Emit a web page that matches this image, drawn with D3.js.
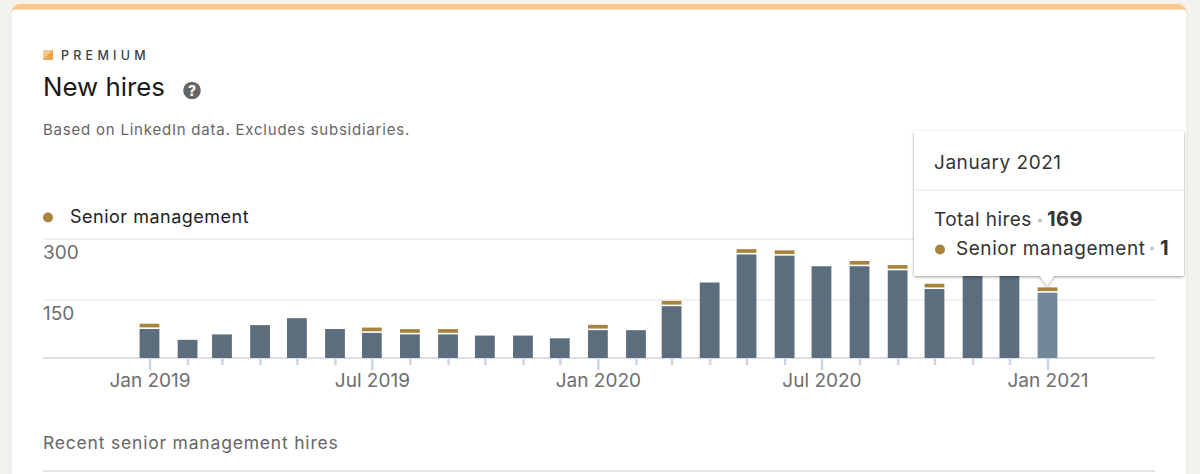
<!DOCTYPE html>
<html>
<head>
<meta charset="utf-8">
<script src="https://d3js.org/d3.v7.min.js"></script>
<style>
  html, body { margin: 0; padding: 0; background: #f3f2ee; overflow: hidden; }
  svg { display: block; font-family: Inter, "Noto Sans", sans-serif; }
</style>
</head>
<body>
<script>
// values; the two bars behind the tooltip are guesses
const months = ['2019-01','2019-02','2019-03','2019-04','2019-05','2019-06','2019-07','2019-08','2019-09',
  '2019-10','2019-11','2019-12','2020-01','2020-02','2020-03','2020-04','2020-05','2020-06','2020-07',
  '2020-08','2020-09','2020-10','2020-11','2020-12','2021-01'];
const otherHires = [75,47,61,85,103,75,65,61,61,58,58,51,72,72,134,193,262,259,233,233,223,177,240,240,168];
const seniorHires = [1,0,0,0,0,0,1,1,1,0,0,0,1,0,1,0,1,1,0,1,1,1,0,0,1];
const yTicks = [150, 300];
const labelledMonths = ['2019-01','2019-07','2020-01','2020-07','2021-01'];

const width = 1200, height = 474;
const parseMonth = d3.timeParse('%Y-%m');
const dates = months.map(parseMonth);
const labelled = labelledMonths.map(m => +parseMonth(m));

const svg = d3.select('body').append('svg').attr('width', width).attr('height', height);
const defs = svg.append('defs');

const shadow = defs.append('filter').attr('id', 'tipShadow')
  .attr('x', '-10%').attr('y', '-10%').attr('width', '120%').attr('height', '125%');
shadow.append('feDropShadow').attr('dx', 0).attr('dy', 1).attr('stdDeviation', 1.6)
  .attr('flood-color', '#000').attr('flood-opacity', 0.4);

const iconGrad = defs.append('linearGradient').attr('id', 'iconGrad')
  .attr('x1', 0).attr('y1', 0).attr('x2', 1).attr('y2', 1);
iconGrad.append('stop').attr('offset', '50%').attr('stop-color', '#f7c992');
iconGrad.append('stop').attr('offset', '50%').attr('stop-color', '#eea648');

// card
svg.append('rect').attr('x', 11).attr('y', 4).attr('width', 1176).attr('height', 490)
  .attr('rx', 9).attr('fill', '#f8c88d');
svg.append('path').attr('d', 'M11,14 Q11,9.4 16,9.4 H1182 Q1187,9.4 1187,14 V480 H11 Z').attr('fill', '#fff');
svg.append('line').attr('x1', 11).attr('x2', 11).attr('y1', 12).attr('y2', 474).attr('stroke', '#e4e4e2').attr('stroke-width', 1);
svg.append('line').attr('x1', 1187).attr('x2', 1187).attr('y1', 12).attr('y2', 474).attr('stroke', '#e4e4e2').attr('stroke-width', 1);

// header
svg.append('rect').attr('x', 43).attr('y', 50).attr('width', 10).attr('height', 10).attr('fill', 'url(#iconGrad)');
svg.append('text').attr('x', 61).attr('y', 59.5).text('PREMIUM')
  .attr('font-size', 12.5).attr('font-weight', 500).attr('letter-spacing', 4.25).attr('fill', '#3f3f3f');
svg.append('text').attr('x', 43).attr('y', 95.5).text('New hires')
  .attr('font-size', 25.8).attr('fill', '#1a1a1a');
svg.append('circle').attr('cx', 192).attr('cy', 90.5).attr('r', 8.8).attr('fill', '#666');
svg.append('text').attr('x', 192).attr('y', 95.5).attr('text-anchor', 'middle').text('?')
  .attr('font-size', 14).attr('font-weight', 800).attr('fill', '#fff');
svg.append('text').attr('x', 43).attr('y', 134.5).text('Based on LinkedIn data. Excludes subsidiaries.')
  .attr('font-size', 15).attr('letter-spacing', 0.78).attr('fill', '#666');

// legend
svg.append('circle').attr('cx', 48).attr('cy', 217.5).attr('r', 5).attr('fill', '#a6843a');
svg.append('text').attr('x', 70).attr('y', 222.5).text('Senior management')
  .attr('font-size', 18).attr('letter-spacing', 0.5).attr('fill', '#222');

// scales
const x = d3.scaleTime().domain([dates[0], dates[dates.length - 1]]).range([149.5, 1047.5]);
const y = d3.scaleLinear().domain([0, 150, 300]).range([358, 300, 239]);
const seniorH = d3.scaleLinear().domain([0, 1]).range([0, 3.7]);
const barW = 19.8, seniorGap = 1.6;

// grid
svg.append('g').selectAll('line').data(yTicks).join('line')
  .attr('x1', 43).attr('x2', 1155)
  .attr('y1', d => y(d)).attr('y2', d => y(d))
  .attr('stroke', '#eff1f3').attr('stroke-width', 2);
svg.append('g').selectAll('text').data(yTicks).join('text')
  .attr('x', 43).attr('y', d => y(d) + 20)
  .attr('font-size', 19).attr('fill', '#6e6e6e')
  .text(d => d);

// x axis
const xAxis = d3.axisBottom(x).tickValues(dates).tickSize(7).tickPadding(0)
  .tickFormat(d => labelled.includes(+d) ? d3.timeFormat('%b %Y')(d) : '');
const axisG = svg.append('g').attr('transform', 'translate(0,358)').call(xAxis);
axisG.select('.domain').remove();
axisG.selectAll('.tick line').attr('stroke', '#cbd5e2').attr('stroke-width', 2.5)
  .attr('y2', d => labelled.includes(+d) ? 12 : 7);
axisG.selectAll('.tick text').attr('y', 29).attr('dy', 0)
  .attr('font-family', 'Inter').attr('font-size', 19).attr('fill', '#6e6e6e');

svg.append('line').attr('x1', 43).attr('x2', 1155).attr('y1', 358).attr('y2', 358)
  .attr('stroke', '#dce0e6').attr('stroke-width', 2);

// bars
const rows = dates.map((d, i) => ({ date: d, other: otherHires[i], senior: seniorHires[i], last: i === dates.length - 1 }));
svg.append('g').selectAll('rect').data(rows).join('rect')
  .attr('x', d => x(d.date) - barW / 2)
  .attr('width', barW)
  .attr('y', d => y(d.other))
  .attr('height', d => y(0) - y(d.other))
  .attr('fill', d => d.last ? '#73879a' : '#5c6e7e');
svg.append('g').selectAll('rect').data(rows.filter(d => d.senior > 0)).join('rect')
  .attr('x', d => x(d.date) - barW / 2)
  .attr('width', barW)
  .attr('y', d => y(d.other) - seniorGap - seniorH(d.senior))
  .attr('height', d => seniorH(d.senior))
  .attr('fill', '#a6843a');

// tooltip
const tip = svg.append('g');
tip.append('path')
  .attr('d', 'M915,131 H1183 Q1184,131 1184,132 V275 Q1184,276 1183,276 H1054 L1047,286 L1040,276 H915 Q914,276 914,275 V132 Q914,131 915,131 Z')
  .attr('fill', '#fff').attr('filter', 'url(#tipShadow)');
tip.append('line').attr('x1', 914).attr('x2', 1191).attr('y1', 190).attr('y2', 190)
  .attr('stroke', '#e6e6e6').attr('stroke-width', 1.2);
tip.append('text').attr('x', 934).attr('y', 168.5).text('January 2021')
  .attr('font-size', 19).attr('letter-spacing', 0.55).attr('fill', '#333');
tip.append('text').attr('x', 934).attr('y', 226).text('Total hires')
  .attr('font-size', 19).attr('letter-spacing', 0.45).attr('fill', '#333');
tip.append('circle').attr('cx', 1040).attr('cy', 220.5).attr('r', 2).attr('fill', '#c4c4c4');
tip.append('text').attr('x', 1047).attr('y', 226).text('169')
  .attr('font-size', 20).attr('font-weight', 700).attr('letter-spacing', 0.5).attr('fill', '#333');
tip.append('circle').attr('cx', 940).attr('cy', 249.5).attr('r', 5).attr('fill', '#a6843a');
tip.append('text').attr('x', 956).attr('y', 254.5).text('Senior management')
  .attr('font-size', 19).attr('letter-spacing', 0.55).attr('fill', '#333');
tip.append('circle').attr('cx', 1152).attr('cy', 248.5).attr('r', 2).attr('fill', '#c4c4c4');
tip.append('text').attr('x', 1160).attr('y', 254.5).text('1')
  .attr('font-size', 20).attr('font-weight', 700).attr('fill', '#333');

// footer
svg.append('text').attr('x', 43).attr('y', 448.5).text('Recent senior management hires')
  .attr('font-size', 17.5).attr('letter-spacing', 0.8).attr('fill', '#666');
svg.append('line').attr('x1', 43).attr('x2', 1155).attr('y1', 471).attr('y2', 471)
  .attr('stroke', '#d9d9d9').attr('stroke-width', 1.5);
</script>
</body>
</html>
